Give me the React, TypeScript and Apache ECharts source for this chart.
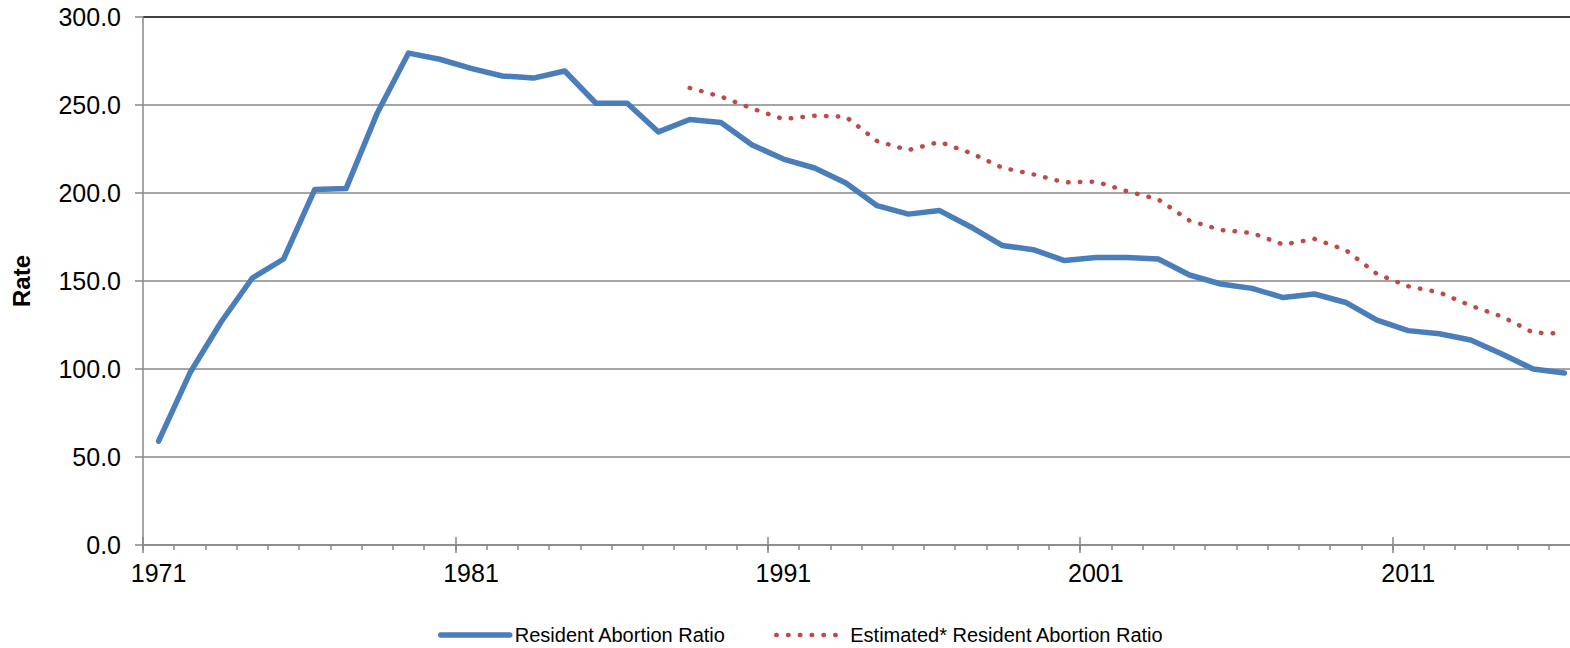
import React, { useEffect, useRef } from "react";
import * as echarts from "echarts";

const years: string[] = [];
for (let y = 1971; y <= 2016; y++) years.push(String(y));

const residentRatio = [
  59.0, 97.7, 126.7, 151.7, 162.5, 202.0, 202.5, 245.5, 279.5, 276.0,
  270.8, 266.5, 265.3, 269.3, 251.0, 251.0, 234.7, 241.8, 240.0, 227.3,
  219.3, 214.2, 205.7, 192.8, 188.0, 190.0, 180.7, 170.2, 167.8, 161.6,
  163.3, 163.3, 162.5, 153.4, 148.3, 145.8, 140.6, 142.6, 137.8, 127.8,
  121.8, 120.0, 116.5, 108.5, 100.0, 97.7,
];

const estimatedRatio: (number | null)[] = [
  null, null, null, null, null, null, null, null, null, null,
  null, null, null, null, null, null, null, 259.7, 254.8, 248.0,
  242.0, 243.9, 243.3, 229.5, 224.4, 229.0, 222.7, 214.4, 210.6, 206.0,
  206.5, 201.0, 196.4, 184.3, 179.0, 177.3, 170.7, 173.9, 167.6, 154.0,
  147.0, 143.5, 136.0, 129.8, 120.7, 120.0,
];

const yTicks = [0, 50, 100, 150, 200, 250, 300];

const FONT = "'Liberation Sans', Arial, sans-serif";
const GRAY = "#878787";
const BLUE = "#4a7ebb";
const RED = "#be4b48";
const DOTS = [0.5, 11.3];

export default function App() {
  const ref = useRef<HTMLDivElement>(null);
  useEffect(() => {
    if (!ref.current) return;
    const chart = echarts.init(ref.current, undefined, { renderer: "svg" });
    const majorTick = (i: number) => i % 10 === 0;
    const baseX = {
      type: "category" as const,
      data: years,
      boundaryGap: true,
      position: "bottom" as const,
      gridIndex: 0,
    };
    chart.setOption({
      animation: false,
      textStyle: { fontFamily: FONT },
      grid: { left: 143, top: 17, width: 1437, height: 528 },
      legend: {
        left: 433,
        top: 620,
        itemWidth: 69,
        itemHeight: 14,
        itemGap: 48,
        textStyle: { fontSize: 20, color: "#000", fontFamily: FONT },
        data: [
          {
            name: "Resident Abortion Ratio",
            itemStyle: { opacity: 0 },
            lineStyle: { width: 5.5, color: BLUE, cap: "round" },
          },
          {
            name: "Estimated* Resident Abortion Ratio",
            itemStyle: { opacity: 0 },
            lineStyle: { width: 4.5, color: RED, type: DOTS, cap: "round" },
          },
        ],
      },
      xAxis: [
        {
          ...baseX,
          axisLine: { show: true, lineStyle: { color: GRAY, width: 1.5 } },
          axisTick: { show: true, interval: 0, length: 5, lineStyle: { color: GRAY, width: 1.5 } },
          axisLabel: {
            interval: (i: number) => i % 10 === 0,
            fontSize: 25,
            margin: 15,
            color: "#000",
            fontFamily: FONT,
          },
          splitLine: { show: false },
        },
        {
          ...baseX,
          axisLine: { show: false },
          axisTick: { show: true, interval: majorTick, length: 8, lineStyle: { color: GRAY, width: 1.5 } },
          axisLabel: { show: false },
          splitLine: { show: false },
        },
        {
          ...baseX,
          axisLine: { show: false },
          axisTick: { show: true, inside: true, interval: majorTick, length: 8, lineStyle: { color: GRAY, width: 1.5 } },
          axisLabel: { show: false },
          splitLine: { show: false },
        },
      ],
      yAxis: {
        type: "value",
        min: yTicks[0],
        max: yTicks[yTicks.length - 1],
        interval: 50,
        name: "Rate",
        nameLocation: "middle",
        nameRotate: 90,
        nameGap: 110,
        nameTextStyle: { fontSize: 24, fontWeight: "bold", color: "#000", fontFamily: FONT },
        axisLine: { show: true, lineStyle: { color: GRAY, width: 1.5 } },
        axisTick: { show: true, length: 8, lineStyle: { color: GRAY, width: 1.5 } },
        axisLabel: {
          formatter: (v: number) => v.toFixed(1),
          fontSize: 25,
          margin: 22,
          color: "#000",
          fontFamily: FONT,
        },
        splitLine: {
          show: true,
          lineStyle: {
            color: [GRAY, GRAY, GRAY, GRAY, GRAY, GRAY, "#000"],
            width: 1.5,
          },
        },
      },
      series: [
        {
          name: "Resident Abortion Ratio",
          type: "line",
          data: residentRatio,
          symbol: "none",
          lineStyle: { color: BLUE, width: 5.5, cap: "round", join: "round" },
          itemStyle: { color: BLUE },
        },
        {
          name: "Estimated* Resident Abortion Ratio",
          type: "line",
          data: estimatedRatio,
          symbol: "none",
          lineStyle: { color: RED, width: 4.5, type: DOTS, cap: "round", join: "round" },
          itemStyle: { color: RED },
        },
      ],
    });
    return () => chart.dispose();
  }, []);
  return (
    <div
      style={{ position: "absolute", left: 0, top: 0, width: 1570, height: 648, overflow: "hidden", background: "#fff" }}
    >
      <div ref={ref} style={{ width: 1600, height: 648 }} />
    </div>
  );
}
